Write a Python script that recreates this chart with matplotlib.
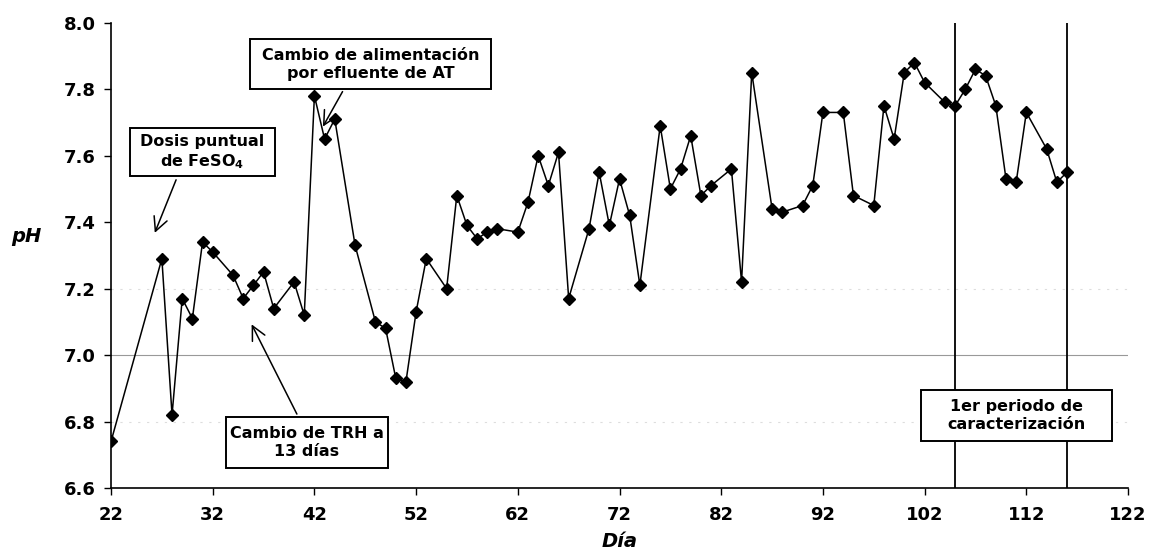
import matplotlib
matplotlib.use('Agg')
import matplotlib.pyplot as plt
from matplotlib.patches import Rectangle

# Datos
dias = [22, 27, 28, 29, 30, 31, 32, 34, 35, 36, 37, 38, 40, 41, 42, 43, 44, 46,
        48, 49, 50, 51, 52, 53, 55, 56, 57, 58, 59, 60, 62, 63, 64, 65, 66, 67,
        69, 70, 71, 72, 73, 74, 76, 77, 78, 79, 80, 81, 83, 84, 85, 87, 88, 90,
        91, 92, 94, 95, 97, 98, 99, 100, 101, 102, 104, 105, 106, 107, 108, 109,
        110, 111, 112, 114, 115, 116]
ph = [6.74, 7.29, 6.82, 7.17, 7.11, 7.34, 7.31, 7.24, 7.17, 7.21, 7.25, 7.14,
      7.22, 7.12, 7.78, 7.65, 7.71, 7.33, 7.10, 7.08, 6.93, 6.92, 7.13, 7.29,
      7.20, 7.48, 7.39, 7.35, 7.37, 7.38, 7.37, 7.46, 7.60, 7.51, 7.61, 7.17,
      7.38, 7.55, 7.39, 7.53, 7.42, 7.21, 7.69, 7.50, 7.56, 7.66, 7.48, 7.51,
      7.56, 7.22, 7.85, 7.44, 7.43, 7.45, 7.51, 7.73, 7.73, 7.48, 7.45, 7.75,
      7.65, 7.85, 7.88, 7.82, 7.76, 7.75, 7.80, 7.86, 7.84, 7.75, 7.53, 7.52,
      7.73, 7.62, 7.52, 7.55]

x_ticks = list(range(22, 123, 10))
y_ticks = [6.6, 6.8, 7.0, 7.2, 7.4, 7.6, 7.8, 8.0]
limites_periodo = [105, 116]

plt.rcParams['font.family'] = ['DejaVu Sans']
plt.rcParams['mathtext.fontset'] = 'dejavusans'
plt.rcParams['mathtext.default'] = 'bf'

fig = plt.figure(figsize=(11.54, 5.55), dpi=100)
ax = fig.add_axes([0.0962, 0.1207, 0.8813, 0.8384])

# lineas de referencia tenues
ax.axhline(7.0, color='#999999', lw=0.8, zorder=1)
for yv in [6.8, 7.2]:
    ax.axhline(yv, color='#dddddd', lw=0.8, ls=(0, (2, 6)), zorder=1)

ax.plot(dias, ph, color='black', lw=1.1, marker='D', markersize=6.5,
        markerfacecolor='black', markeredgecolor='black', zorder=3)

for xv in limites_periodo:
    ax.axvline(xv, color='black', lw=1.3, zorder=2)

ax.set_xlim(22, 122)
ax.set_ylim(6.6, 8.0)
ax.set_xticks(x_ticks)
ax.set_yticks(y_ticks)
ax.set_yticklabels([f'{v:.1f}' for v in y_ticks])
ax.tick_params(axis='both', direction='out', length=5, width=1, labelsize=13)
ax.tick_params(axis='x', pad=8)
ax.tick_params(axis='y', pad=6)
for lab in ax.get_xticklabels() + ax.get_yticklabels():
    lab.set_fontweight('bold')
ax.spines['top'].set_visible(False)
ax.spines['right'].set_visible(False)
ax.spines['left'].set_linewidth(1.2)
ax.spines['bottom'].set_linewidth(1.2)

ax.set_ylabel('pH', rotation=0, fontsize=14, fontweight='bold', fontstyle='italic',
              ha='center', va='center')
ax.yaxis.set_label_coords(-0.083, 0.54)
ax.set_xlabel('Día', fontsize=14, fontweight='bold', fontstyle='italic', va='center')
ax.xaxis.set_label_coords(0.5, -0.115)

flecha = dict(arrowstyle='->,head_length=1.0,head_width=0.5', color='black', lw=1.1)

# cuadros de texto: (texto, x0, x1, y0, y1)
cuadros = [
    ('Dosis puntual\nde FeSO$_4$', 23.9, 38.1, 7.538, 7.682),
    ('Cambio de alimentación\npor efluente de AT', 35.7, 59.4, 7.80, 7.95),
    ('Cambio de TRH a\n13 días', 33.3, 49.2, 6.661, 6.813),
    ('1er periodo de\ncaracterización', 101.6, 120.4, 6.742, 6.896),
]
for texto, x0, x1, y0, y1 in cuadros:
    ax.add_patch(Rectangle((x0, y0), x1 - x0, y1 - y0, facecolor='white',
                           edgecolor='black', lw=1.4, zorder=5))
    ax.text((x0 + x1) / 2, (y0 + y1) / 2, texto, ha='center', va='center',
            fontsize=11.5, fontweight='bold', zorder=6, linespacing=1.25)

ax.annotate('', xy=(26.2, 7.36), xytext=(28.5, 7.535), arrowprops=flecha, zorder=4)
ax.annotate('', xy=(42.7, 7.68), xytext=(44.9, 7.80), arrowprops=flecha, zorder=4)
ax.annotate('', xy=(35.7, 7.10), xytext=(40.4, 6.815), arrowprops=flecha, zorder=4)

fig.savefig('out.png', dpi=100)
